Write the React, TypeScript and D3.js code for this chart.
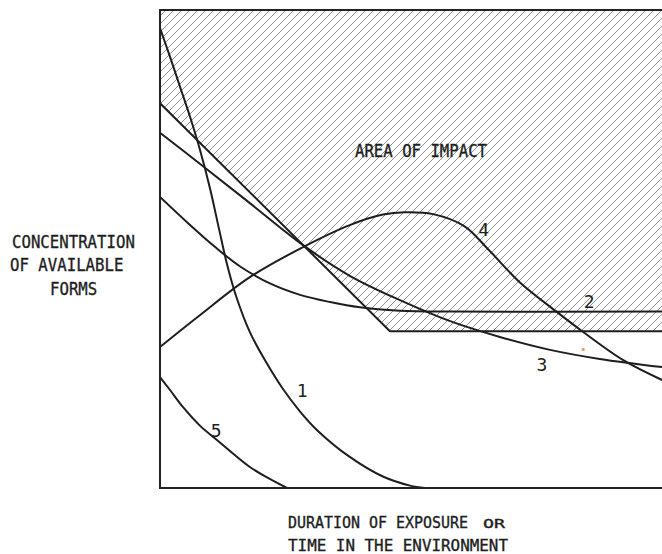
import React from "react";
import * as d3 from "d3";

// Data in chart units: x = duration (0-100), y = concentration (0-100)
const curve1: [number, number][] = [
  [0, 96.2], [2.0, 90.2], [4.0, 83.9], [6.0, 77.6], [8.0, 70.6], [10.0, 62.5],
  [11.8, 54.0], [13.4, 46.6], [15.2, 40.0], [17.9, 32.6], [21.1, 26.4],
  [24.5, 20.7], [27.9, 16.0], [31.3, 12.1], [37.8, 6.5], [44.4, 2.4],
  [49.8, 0.5], [52.8, 0],
];
const curve2: [number, number][] = [
  [0, 60.9], [5.6, 55.4], [11.0, 50.4], [15.9, 46.4], [21.9, 42.8], [27.9, 40.4],
  [33.9, 38.9], [39.8, 37.8], [47.8, 37.1], [57.8, 36.9], [100, 36.9],
];
const curve3: [number, number][] = [
  [0, 74.3], [8.0, 67.8], [17.9, 59.6], [28.5, 50.8], [37.8, 44.4], [47.8, 39.3],
  [57.8, 34.9], [67.7, 31.6], [77.7, 28.9], [87.6, 27.0], [100, 25.3],
];
const curve4: [number, number][] = [
  [0, 29.5], [8.0, 36.2], [17.9, 44.1], [28.5, 50.4], [37.8, 55.0], [44.4, 57.2],
  [48.8, 57.7], [54.4, 57.3], [60.6, 54.8], [65.5, 49.8], [71.7, 43.0],
  [79.1, 36.8], [84.1, 32.8], [92.2, 26.8], [100, 22.6],
];
const curve5: [number, number][] = [
  [0, 23.2], [2.0, 20.5], [4.6, 16.9], [8.0, 13.0], [11.4, 10.0], [14.9, 6.9],
  [17.9, 4.4], [21.5, 2.1], [25.3, 0],
];
const impactBoundary: [number, number][] = [[0, 80.5], [45.8, 32.8], [100, 32.8]];

const curveNames = ["1", "2", "3", "4", "5"];
const labelX = [28.3, 85.5, 76.1, 64.5, 11.2];
const labelY = [19.0, 37.7, 24.5, 52.7, 10.7];

const areaTitle = "AREA OF IMPACT";
const yTitle = ["CONCENTRATION", "OF AVAILABLE", "FORMS"];
const xTitle1 = "DURATION OF EXPOSURE";
const xTitle1b = "OR";
const xTitle2 = "TIME IN THE ENVIRONMENT";

const W = 662;
const H = 554;
const L = 160, R = 662, T = 10, B = 488;
const MONO = "'DejaVu Sans Mono', 'Liberation Mono', monospace";
const INK = "#1e1e1e";

export default function App() {
  const x = d3.scaleLinear().domain([0, 100]).range([L, R]);
  const y = d3.scaleLinear().domain([0, 100]).range([B, T]);
  const line = d3
    .line<[number, number]>()
    .x((d) => x(d[0]))
    .y((d) => y(d[1]))
    .curve(d3.curveCatmullRom.alpha(0.5));
  const straight = d3
    .line<[number, number]>()
    .x((d) => x(d[0]))
    .y((d) => y(d[1]));

  const hatchPoly: [number, number][] = [[0, 100], ...impactBoundary, [100, 100]];
  const hatchPath = straight(hatchPoly) + "Z";
  const curves = [curve1, curve2, curve3, curve4, curve5];

  const textProps = {
    fontFamily: MONO,
    fill: INK,
    stroke: INK,
    strokeWidth: 0.35,
    lengthAdjust: "spacingAndGlyphs" as const,
  };

  return (
    <svg
      width={W}
      height={H}
      style={{ position: "absolute", left: 0, top: 0, background: "#fff" }}
    >
      <defs>
        <pattern id="hatch" patternUnits="userSpaceOnUse" width={8} height={8}>
          <path
            d="M-2,2 L2,-2 M0,8 L8,0 M6,10 L10,6"
            stroke="#808080"
            strokeWidth={0.85}
          />
        </pattern>
        <clipPath id="plot">
          <rect x={L} y={T} width={R - L + 2} height={B - T} />
        </clipPath>
      </defs>
      <rect width={W} height={H} fill="#fff" />
      <path d={hatchPath} fill="url(#hatch)" stroke="none" />
      <path d={straight(impactBoundary) || ""} fill="none" stroke={INK} strokeWidth={2} />
      <g clipPath="url(#plot)">
        {curves.map((c, i) => (
          <path key={i} d={line(c) || ""} fill="none" stroke={INK} strokeWidth={2} />
        ))}
      </g>
      {/* frame */}
      <path
        d={`M${R},${T} H${L} V${B} H${R}`}
        fill="none"
        stroke="#222"
        strokeWidth={2}
      />
      {/* scan speck */}
      <circle cx={x(84.3)} cy={y(29.0)} r={1.6} fill="#e0a060" />
      {curveNames.map((n, i) => (
        <text
          key={n}
          x={x(labelX[i])}
          y={y(labelY[i])}
          textAnchor="middle"
          fontFamily={MONO}
          fontSize={18}
          fill={INK}
        >
          {n}
        </text>
      ))}
      <text x={355} y={157} fontSize={18} textLength={132} {...textProps}>
        {areaTitle}
      </text>
      {yTitle.map((t, i) => (
        <text
          key={t}
          x={[12, 10, 50][i]}
          y={[248, 271, 295][i]}
          fontSize={17}
          textLength={t.length * 9.45}
          {...textProps}
        >
          {t}
        </text>
      ))}
      <text x={288} y={528} fontSize={16} textLength={180} {...textProps}>
        {xTitle1}
      </text>
      <text x={483} y={528} fontSize={12.5} textLength={22} {...textProps}>
        {xTitle1b}
      </text>
      <text x={288} y={551} fontSize={16} textLength={220} {...textProps}>
        {xTitle2}
      </text>
    </svg>
  );
}
